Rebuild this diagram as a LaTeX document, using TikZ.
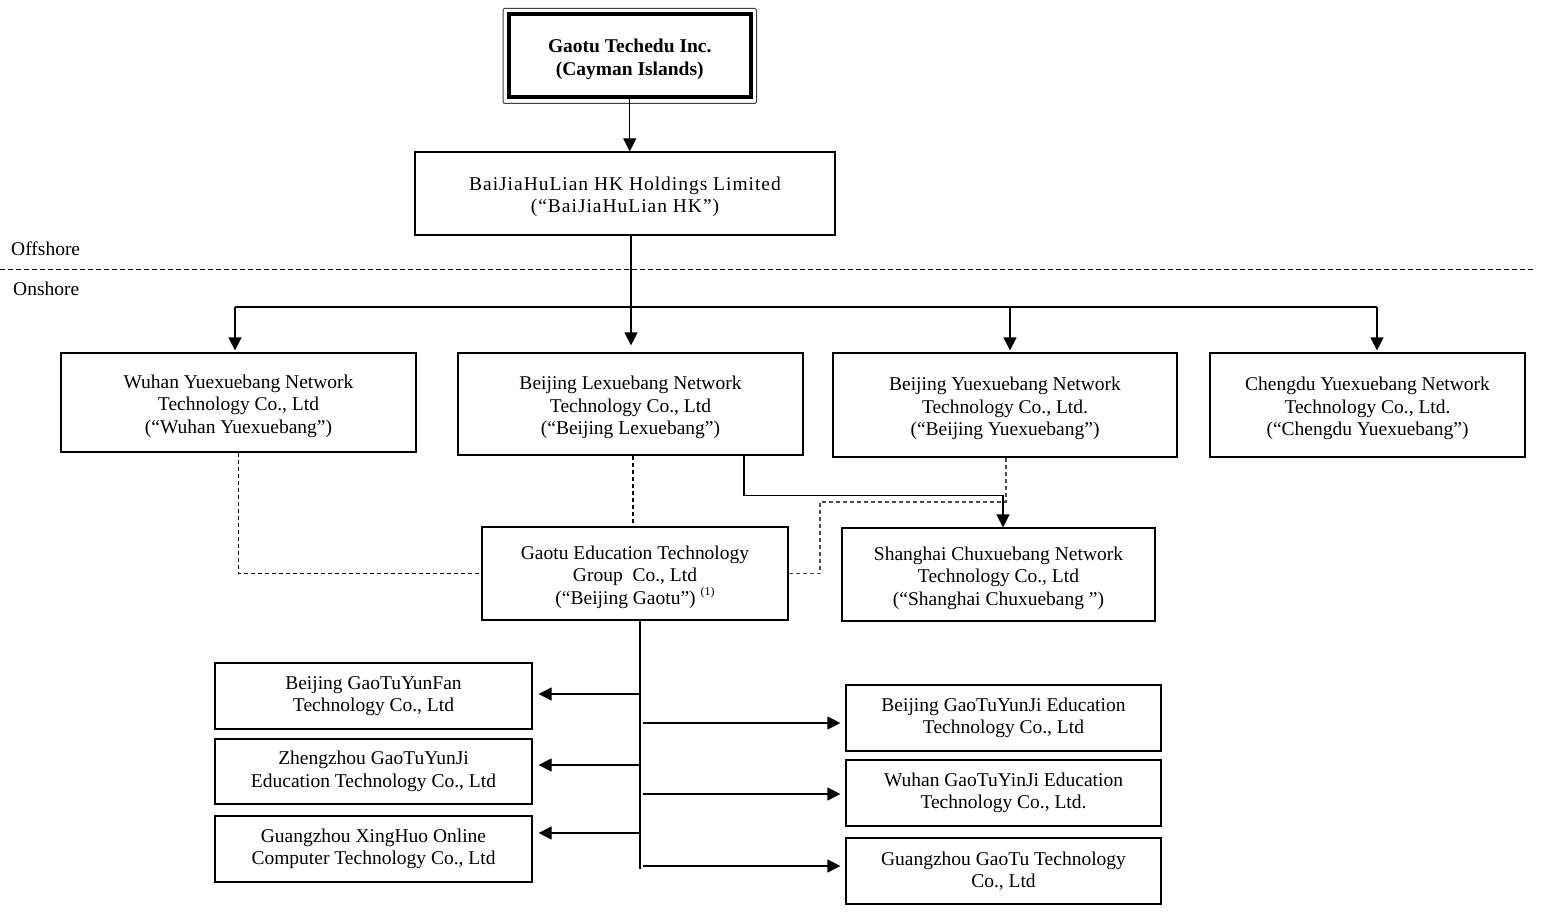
\documentclass[tikz,border=0pt]{standalone}
\usepackage{fontspec}
\setmainfont{Liberation Serif}
\usetikzlibrary{positioning,arrows.meta}

\begin{document}
\begin{tikzpicture}[x=1pt,y=-1pt,>={Triangle[length=13pt,width=13pt]},
  every node/.style={font=\fontsize{19.5}{22.5}\selectfont,align=center},
  box/.style={draw,line width=1.2pt,inner sep=0pt},
  tall/.style={text height=#1},
  link/.style={line width=1.2pt},
  tie/.style={line width=1.1pt,dash pattern=on 4pt off 3pt}]
  \useasboundingbox (0,0) rectangle (1543,912);

  % holding chain
  \node[box,tall=43pt,line width=4pt,minimum width=241.5pt,minimum height=83pt] (top) at (629.75,56)
    {\textbf{Gaotu Techedu Inc.}\\\textbf{(Cayman Islands)}};
  \draw[line width=1pt,rounded corners=2pt,black!75] ([shift={(-4,-4)}]top.north west) rectangle ([shift={(4,4)}]top.south east);
  \node[box,tall=42.8pt,minimum width=420pt,minimum height=83pt] (hk) at (625,193.5)
    {\addfontfeature{LetterSpace=5}BaiJiaHuLian HK Holdings Limited\\\addfontfeature{LetterSpace=5}(“BaiJiaHuLian HK”)};
  \draw[link,->] (top.south) -- (top.south |- hk.north);

  \node[anchor=west,inner sep=0pt] (off) at (11,249) {Offshore};
  \node[anchor=west,inner sep=0pt] (on) at (13,289) {Onshore};
  \draw[line width=1pt,dash pattern=on 5pt off 3pt] (0,270) -- (1535,270);

  % onshore entities
  \node[box,tall=65.3pt,minimum width=355pt,minimum height=99pt] (wuhan) at (238.5,402.5)
    {Wuhan Yuexuebang Network\\Technology Co., Ltd\\(“Wuhan Yuexuebang”)};
  \node[box,tall=65.3pt,minimum width=345pt,minimum height=102pt] (lexue) at (630.5,404)
    {Beijing Lexuebang Network\\Technology Co., Ltd\\(“Beijing Lexuebang”)};
  \node[box,tall=65.3pt,minimum width=344pt,minimum height=104pt] (bjyue) at (1005,405)
    {Beijing Yuexuebang Network\\Technology Co., Ltd.\\(“Beijing Yuexuebang”)};
  \node[box,tall=65.3pt,minimum width=315pt,minimum height=104pt] (chengdu) at (1367.5,405)
    {Chengdu Yuexuebang Network\\Technology Co., Ltd.\\(“Chengdu Yuexuebang”)};

  \coordinate (bus) at (631,307);
  \draw[link,->,shorten >=7pt] (hk.south -| bus) -- (lexue.north -| bus);
  \draw[link] ([xshift=-3.5]wuhan.north |- bus) -- ([xshift=9.5]chengdu.north |- bus);
  \foreach \n/\d in {wuhan/-3.5,bjyue/5,chengdu/9.5}
    \draw[link,->,shorten >=2pt] ([xshift=\d]\n.north |- bus) -- ([xshift=\d]\n.north);

  \node[box,tall=65.3pt,minimum width=306pt,minimum height=93pt] (gaotu) at (635,573.5)
    {Gaotu Education Technology\\Group\ \ Co., Ltd\\(“Beijing Gaotu”) \raisebox{0.45em}{\fontsize{12}{12}\selectfont(1)}};
  \node[box,tall=65.3pt,minimum width=313pt,minimum height=93pt] (shanghai) at (998.5,574.5)
    {Shanghai Chuxuebang Network\\Technology Co., Ltd\\(“Shanghai Chuxuebang ”)};

  \draw[tie] (wuhan.south) -- (wuhan.south |- gaotu.west) -- (gaotu.west);
  \draw[tie] ([xshift=2.5]lexue.south) -- ([xshift=2.5]lexue.south |- gaotu.north);
  \draw[link,->] ([xshift=113.5]lexue.south) -- ++(0,40) -| ([xshift=4.5]shanghai.north);
  \coordinate (jog) at (820,502);
  \draw[tie,black!70] ([xshift=1]bjyue.south) |- (jog) |- (gaotu.east);

  % subsidiaries of Beijing Gaotu
  \node[box,minimum width=317pt,minimum height=66pt] (yunfan) at (373.5,696)
    {Beijing GaoTuYunFan\\Technology Co., Ltd};
  \node[box,minimum width=317pt,minimum height=65pt] (zhengzhou) at (373.5,771.5)
    {Zhengzhou GaoTuYunJi\\Education Technology Co., Ltd};
  \node[box,minimum width=317pt,minimum height=66pt] (xinghuo) at (373.5,849)
    {Guangzhou XingHuo Online\\Computer Technology Co., Ltd};
  \node[box,minimum width=315pt,minimum height=66pt] (yunji) at (1003.5,718)
    {Beijing GaoTuYunJi Education\\Technology Co., Ltd};
  \node[box,minimum width=315pt,minimum height=66pt] (yinji) at (1003.5,793)
    {Wuhan GaoTuYinJi Education\\Technology Co., Ltd.};
  \node[box,minimum width=315pt,minimum height=66pt] (gaotugz) at (1003.5,871)
    {Guangzhou GaoTu Technology\\Co., Ltd};

  \coordinate (trunk) at ([xshift=5]gaotu.south);
  \draw[link] (trunk) -- ++(0,248);
  \foreach \n/\d in {yunfan/2,zhengzhou/6.5,xinghuo/16}
    \draw[link,->,shorten >=6pt] ([yshift=\d]\n.east -| trunk) -- ([yshift=\d]\n.east);
  \foreach \n/\d in {yunji/-5,yinji/-1,gaotugz/5}
    \draw[link,->,shorten >=5pt,shorten <=3pt] ([yshift=\d]\n.west -| trunk) -- ([yshift=\d]\n.west);
\end{tikzpicture}
\end{document}
